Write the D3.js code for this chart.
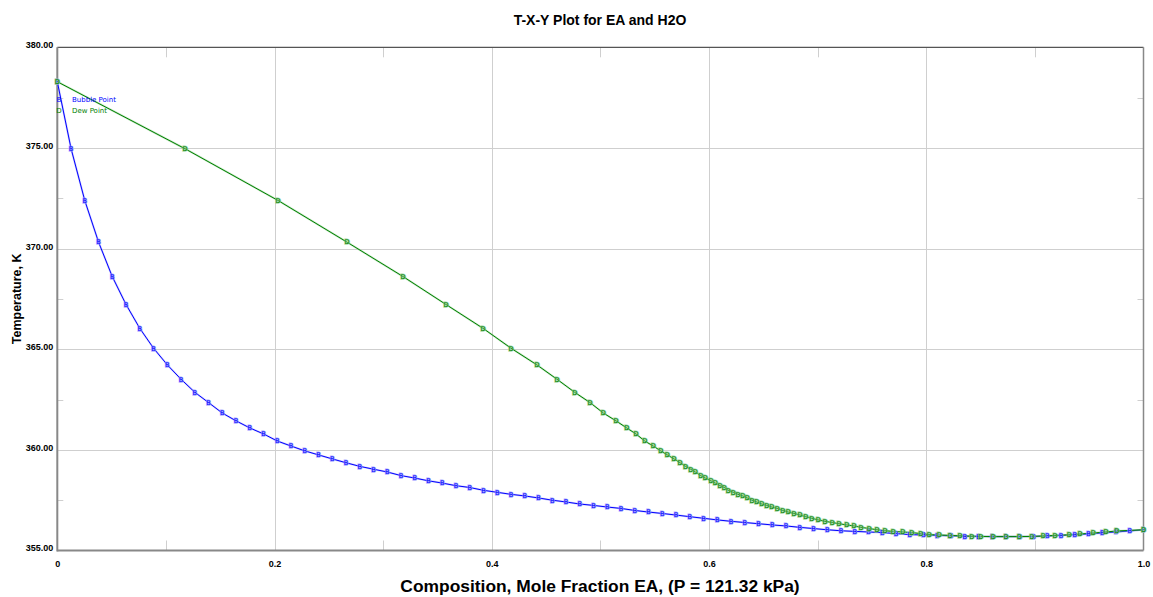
<!DOCTYPE html>
<html>
<head>
<meta charset="utf-8">
<script src="https://cdn.jsdelivr.net/npm/d3@7"></script>
<style>
  html, body { margin: 0; padding: 0; background: #ffffff; }
  svg { display: block; }
</style>
</head>
<body>
<svg id="chart" width="1153" height="597"></svg>
<script>
// Liquid mole fraction of EA for each bubble-point state
const bubbleX = [
  0, 0.0127, 0.0253, 0.0380, 0.0506, 0.0633, 0.0759, 0.0886, 0.1013, 0.1139,
  0.1266, 0.1392, 0.1519, 0.1646, 0.1772, 0.1899, 0.2025, 0.2152, 0.2278, 0.2405,
  0.2532, 0.2658, 0.2785, 0.2911, 0.3038, 0.3165, 0.3291, 0.3418, 0.3544, 0.3671,
  0.3797, 0.3924, 0.4051, 0.4177, 0.4304, 0.4430, 0.4557, 0.4684, 0.4810, 0.4937,
  0.5063, 0.5190, 0.5316, 0.5443, 0.5570, 0.5696, 0.5823, 0.5949, 0.6076, 0.6203,
  0.6329, 0.6456, 0.6582, 0.6709, 0.6835, 0.6962, 0.7089, 0.7215, 0.7342, 0.7468,
  0.7595, 0.7722, 0.7848, 0.7975, 0.8101, 0.8228, 0.8354, 0.8481, 0.8608, 0.8734,
  0.8861, 0.8987, 0.9114, 0.9241, 0.9367, 0.9494, 0.9620, 0.9747, 0.9873, 1.0
];

// Vapour mole fraction of EA in equilibrium (dew point) at the same temperatures
const dewY = [
  0, 0.1176, 0.2032, 0.2667, 0.3183, 0.3579, 0.3919, 0.4177, 0.4416, 0.4600,
  0.4763, 0.4904, 0.5027, 0.5144, 0.5242, 0.5328, 0.5408, 0.5487, 0.5555, 0.5616,
  0.5678, 0.5733, 0.5784, 0.5831, 0.5874, 0.5923, 0.5966, 0.6018, 0.6058, 0.6101,
  0.6141, 0.6178, 0.6224, 0.6267, 0.6310, 0.6352, 0.6396, 0.6439, 0.6485, 0.6531,
  0.6577, 0.6629, 0.6678, 0.6730, 0.6782, 0.6838, 0.6890, 0.6945, 0.7006, 0.7068,
  0.7135, 0.7197, 0.7267, 0.7335, 0.7399, 0.7476, 0.7547, 0.7620, 0.7697, 0.7783,
  0.7866, 0.7949, 0.8028, 0.8120, 0.8219, 0.8311, 0.8418, 0.8501, 0.8617, 0.8734,
  0.8856, 0.8971, 0.9077, 0.9185, 0.9317, 0.9415, 0.9538, 0.9655, 0.9753, 1.0
];

// Saturation temperature (K) shared by each bubble/dew pair
const temperatureK = [
  378.29, 374.96, 372.39, 370.32, 368.61, 367.22, 366.04, 365.05, 364.22, 363.51,
  362.86, 362.35, 361.83, 361.44, 361.09, 360.79, 360.44, 360.19, 359.95, 359.75,
  359.55, 359.36, 359.18, 359.04, 358.90, 358.72, 358.60, 358.46, 358.35, 358.22,
  358.13, 357.99, 357.89, 357.79, 357.71, 357.61, 357.50, 357.41, 357.31, 357.24,
  357.16, 357.09, 356.99, 356.91, 356.84, 356.76, 356.68, 356.60, 356.52, 356.45,
  356.39, 356.33, 356.27, 356.22, 356.15, 356.09, 356.03, 355.98, 355.95, 355.92,
  355.89, 355.84, 355.79, 355.77, 355.75, 355.73, 355.71, 355.70, 355.69, 355.69,
  355.69, 355.70, 355.72, 355.75, 355.78, 355.82, 355.87, 355.92, 355.97, 356.03
];

const xMajorTicks = [0, 0.2, 0.4, 0.6, 0.8, 1.0];
const xTickLabels = ["0", "0.2", "0.4", "0.6", "0.8", "1.0"];
const xMinorTicks = [0.1, 0.3, 0.5, 0.7, 0.9];
const yMajorTicks = [355, 360, 365, 370, 375, 380];
const yTickLabels = ["355.00", "360.00", "365.00", "370.00", "375.00", "380.00"];
const yMinorTicks = [357.5, 362.5, 367.5, 372.5, 377.5];

const seriesNames = ["Bubble Point", "Dew Point"];
const seriesMarkers = ["B", "D"];

const titleText = "T-X-Y Plot for EA and H2O";
const xAxisTitle = "Composition, Mole Fraction EA, (P = 121.32 kPa)";
const yAxisTitle = "Temperature, K";

const svg = d3.select("#chart");
const plot = { left: 57.3, right: 1143.5, top: 47.3, bottom: 550.5 };

const x = d3.scaleLinear().domain([0, 1]).range([plot.left, plot.right]);
const y = d3.scaleLinear().domain([355, 380]).range([plot.bottom, plot.top]);

const bold = "'Liberation Sans', Arial, sans-serif";

// Title
svg.append("text")
  .attr("x", 600).attr("y", 25)
  .attr("text-anchor", "middle")
  .style("font-family", bold).style("font-weight", "bold").style("font-size", "14px")
  .text(titleText);

// Grid lines at the major ticks
const grid = svg.append("g").attr("stroke", "#cfcfcf").attr("stroke-width", 1);
grid.selectAll("line.gx").data(xMajorTicks.slice(1, -1)).join("line")
  .attr("x1", d => Math.round(x(d)) + 0.5).attr("x2", d => Math.round(x(d)) + 0.5)
  .attr("y1", plot.top).attr("y2", plot.bottom);
grid.selectAll("line.gy").data(yMajorTicks.slice(1, -1)).join("line")
  .attr("x1", plot.left).attr("x2", plot.right)
  .attr("y1", d => Math.round(y(d)) + 0.5).attr("y2", d => Math.round(y(d)) + 0.5);

// Minor ticks pointing inward from each side of the frame
const minor = svg.append("g").attr("stroke", "#cfcfcf").attr("stroke-width", 1);
xMinorTicks.forEach(v => {
  const px = Math.round(x(v)) + 0.5;
  minor.append("line").attr("x1", px).attr("x2", px).attr("y1", plot.bottom).attr("y2", plot.bottom - 10);
  minor.append("line").attr("x1", px).attr("x2", px).attr("y1", plot.top).attr("y2", plot.top + 10);
});
yMinorTicks.forEach(v => {
  const py = Math.round(y(v)) + 0.5;
  minor.append("line").attr("x1", plot.left).attr("x2", plot.left + 6).attr("y1", py).attr("y2", py);
  minor.append("line").attr("x1", plot.right).attr("x2", plot.right - 6).attr("y1", py).attr("y2", py);
});

// Frame
svg.append("line").attr("x1", plot.left).attr("x2", plot.right).attr("y1", plot.top).attr("y2", plot.top)
  .attr("stroke", "#555").attr("stroke-width", 1.2);
svg.append("line").attr("x1", plot.right).attr("x2", plot.right).attr("y1", plot.top).attr("y2", plot.bottom)
  .attr("stroke", "#888").attr("stroke-width", 1.5);
svg.append("line").attr("x1", plot.left).attr("x2", plot.left).attr("y1", plot.top).attr("y2", plot.bottom + 1)
  .attr("stroke", "#888").attr("stroke-width", 2);
svg.append("line").attr("x1", plot.left).attr("x2", plot.right).attr("y1", plot.bottom).attr("y2", plot.bottom)
  .attr("stroke", "#888").attr("stroke-width", 2);

// Tick labels
const yAxis = d3.axisLeft(y).tickValues(yMajorTicks)
  .tickFormat((d, i) => yTickLabels[i]).tickSize(0).tickPadding(4);
const gy = svg.append("g").attr("transform", `translate(${plot.left},0)`).call(yAxis);
gy.select(".domain").remove();
gy.selectAll("text")
  .attr("dy", "0.05em")
  .style("font-family", bold).style("font-weight", "bold").style("font-size", "9px").attr("fill", "#000");

const xAxis = d3.axisBottom(x).tickValues(xMajorTicks)
  .tickFormat((d, i) => xTickLabels[i]).tickSize(0).tickPadding(10);
const gx = svg.append("g").attr("transform", `translate(0,${plot.bottom})`).call(xAxis);
gx.select(".domain").remove();
gx.selectAll("text")
  .style("font-family", bold).style("font-weight", "bold").style("font-size", "9px").attr("fill", "#000");

// Axis titles
svg.append("text")
  .attr("x", 600).attr("y", 592)
  .attr("text-anchor", "middle")
  .style("font-family", bold).style("font-weight", "bold").style("font-size", "17.4px")
  .text(xAxisTitle);

svg.append("text")
  .attr("transform", `translate(21,${(plot.top + plot.bottom) / 2}) rotate(-90)`)
  .attr("text-anchor", "middle")
  .style("font-family", bold).style("font-weight", "bold").style("font-size", "12.5px")
  .text(yAxisTitle);

// Curves
const bubblePts = bubbleX.map((v, i) => [v, temperatureK[i]]);
const dewPts = dewY.map((v, i) => [v, temperatureK[i]]);
const line = d3.line().x(d => x(d[0])).y(d => y(d[1]));

const series = [
  { pts: bubblePts, color: "#0000ff", halo: "#9a9aff", mark: seriesMarkers[0], name: seriesNames[0] },
  { pts: dewPts, color: "#008000", halo: "#8ccc8c", mark: seriesMarkers[1], name: seriesNames[1] }
];

series.forEach(s => {
  svg.append("path").datum(s.pts)
    .attr("d", line)
    .attr("fill", "none")
    .attr("stroke", s.halo).attr("stroke-width", 2).attr("stroke-opacity", 0.5);
  svg.append("path").datum(s.pts)
    .attr("d", line)
    .attr("fill", "none")
    .attr("stroke", s.color).attr("stroke-width", 1);
});

function drawMarkers(g, pts, s) {
  g.selectAll("text").data(pts).join("text")
    .attr("x", d => x(d[0])).attr("y", d => y(d[1]))
    .attr("text-anchor", "middle").attr("dy", "0.36em")
    .style("font-family", "'DejaVu Sans', sans-serif").style("font-size", "6.5px")
    .style("paint-order", "stroke")
    .attr("stroke", s.halo).attr("stroke-width", 1.6).attr("stroke-opacity", 0.8)
    .attr("fill", s.color)
    .text(s.mark);
}
series.forEach(s => drawMarkers(svg.append("g"), s.pts, s));

// Legend
const legend = svg.append("g");
series.forEach((s, i) => {
  const ly = 99 + i * 11;
  legend.append("text").attr("x", 59).attr("y", ly).attr("dy", "0.36em")
    .attr("text-anchor", "middle")
    .style("font-family", "'DejaVu Sans', sans-serif").style("font-size", "7px")
    .attr("fill", s.color).text(s.mark);
  legend.append("text").attr("x", 72).attr("y", ly).attr("dy", "0.36em")
    .style("font-family", "'DejaVu Sans', sans-serif").style("font-size", "7px")
    .attr("fill", s.color).text(s.name);
});
</script>
</body>
</html>
